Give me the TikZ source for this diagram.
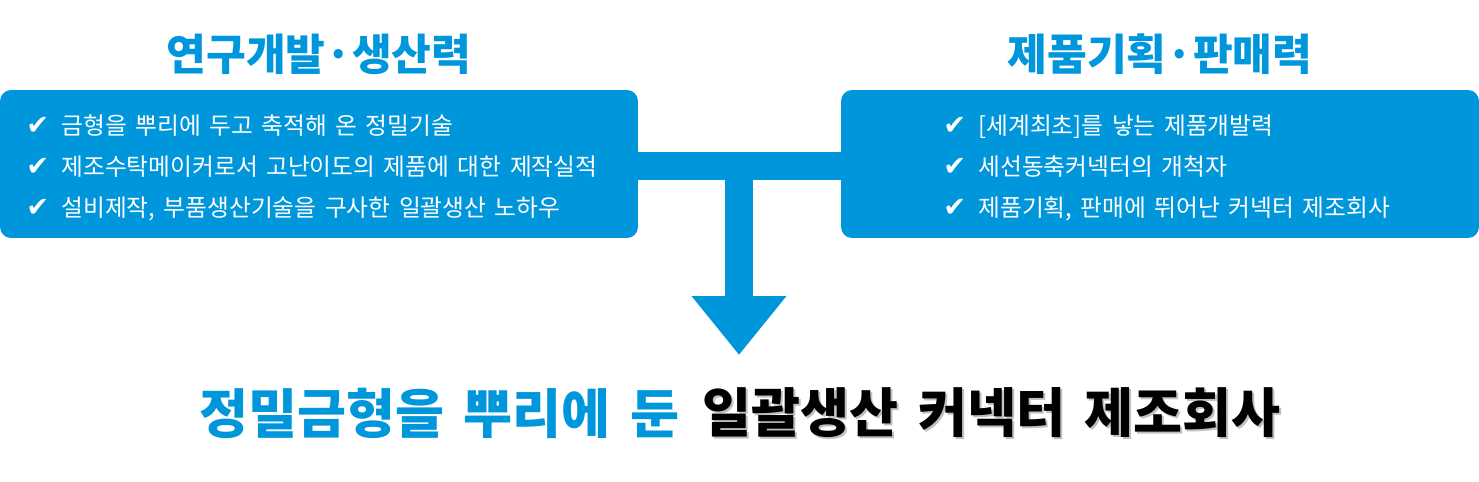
\documentclass[tikz,border=0pt]{standalone}
\usepackage{fontspec}
\newfontfamily\krfont{Noto Sans CJK KR}[WordSpace=1.3]
\newfontfamily\krwide{Noto Sans CJK KR}[WordSpace=1.6]
\newfontfamily\symfont{DejaVu Sans}
\usepackage{xcolor}
\usetikzlibrary{arrows.meta,positioning}
\definecolor{brand}{RGB}{0,150,219}
\newcommand{\chk}{{\symfont\fontsize{15.5}{15.5}\selectfont ✔}}
\tikzset{
  panel/.style={fill=brand, rounded corners=0.22cm, minimum width=12.76cm,
                minimum height=2.96cm, inner sep=0pt},
  items/.style={text=white, anchor=west, inner sep=0pt,
                font=\krfont\fontsize{13.5}{23.3}\selectfont},
  heading/.style={text=brand, inner sep=0pt,
                  font=\krfont\bfseries\fontsize{24.6}{28}\selectfont},
  slogan/.style={inner sep=0pt, font=\krwide\bfseries\fontsize{30.3}{35}\selectfont},
  trunk/.style={draw=brand, line width=0.56cm},
  flow/.style={draw=brand, line width=0.56cm,
               -{Triangle[length=1.18cm, width=1.82cm]}}
}

\begin{document}
\begin{tikzpicture}[x=0.02cm, y=-0.02cm]
  \useasboundingbox (0,0) rectangle (1479,481);

  \node[heading] (rdtitle) at (319,54) {연구개발·생산력};
  \node[heading] (pmtitle) at (1160,54) {제품기획·판매력};

  \node[panel] (rd) at (319,164) {};
  \node[panel] (pm) at (1160,164) {};

  \node[items] (rdlist) at (26,167) {\begin{tabular}{@{}l@{\hspace{7pt}}l@{}}
    \chk & 금형을 뿌리에 두고 축적해 온 정밀기술\\
    \chk & 제조수탁메이커로서 고난이도의 제품에 대한 제작실적\\
    \chk & 설비제작, 부품생산기술을 구사한 일괄생산 노하우
  \end{tabular}};
  \node[items] (pmlist) at (943,167) {\begin{tabular}{@{}l@{\hspace{7pt}}l@{}}
    \chk & [세계최초]를 낳는 제품개발력\\
    \chk & 세선동축커넥터의 개척자\\
    \chk & 제품기획, 판매에 뛰어난 커넥터 제조회사
  \end{tabular}};

  % joining bar and arrow
  \coordinate (junction) at (739,166);
  \coordinate (tip) at (739,355);
  \draw[trunk] (rd.east |- junction) -- (pm.west |- junction);
  \draw[flow] (junction) -- (tip);

  \node[slogan, text=brand, anchor=west] (sloganlead) at (199,413) {정밀금형을 뿌리에 둔};
  \node[slogan, text=black!25, right=0.46cm of sloganlead, xshift=0.04cm, yshift=-0.04cm]
    (sloganshade) {일괄생산 커넥터 제조회사};
  \node[slogan, text=black, right=0.46cm of sloganlead] (slogantail) {일괄생산 커넥터 제조회사};
\end{tikzpicture}
\end{document}
